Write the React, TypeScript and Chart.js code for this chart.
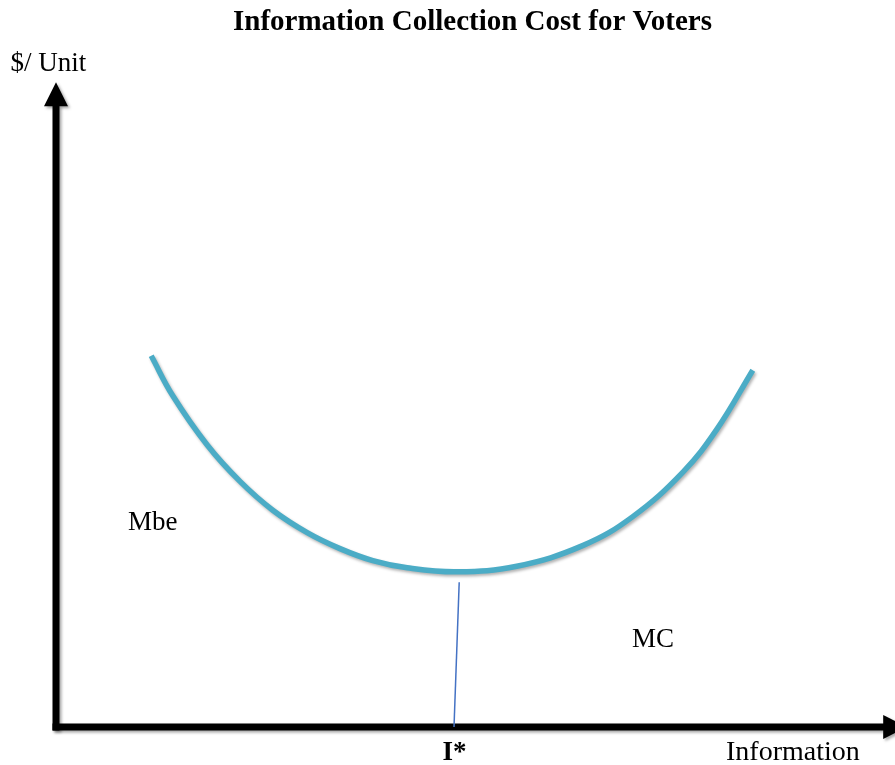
import React, { useEffect, useRef } from "react";
import { Chart, registerables } from "chart.js";

Chart.register(...registerables);

const titleText = "Information Collection Cost for Voters";
const yAxisLabel = "$/ Unit";
const xAxisLabel = "Information";
const curveLabelLeft = "Mbe";
const curveLabelRight = "MC";
const optimumLabel = "I*";

// U-shaped curve (data units; origin at the axes' corner)
const curveX = [1.19, 1.46, 1.89, 2.3, 2.71, 3.14, 3.55, 3.96, 4.39, 5.01, 5.76, 6.59, 7.21, 7.84, 8.26, 8.71];
const curveY = [4.64, 4.14, 3.525, 3.07, 2.71, 2.43, 2.23, 2.08, 1.99, 1.94, 2.01, 2.27, 2.63, 3.19, 3.72, 4.46];

// drop line from the minimum to the horizontal axis
const dropX = [5.04, 4.975];
const dropY = [1.81, 0];

// axis extents
const xAxisEnd = 10.64;
const yAxisEnd = 8.06;

// label anchor points
const labelMbe = { x: 0.9, y: 2.46 };
const labelMC = { x: 7.2, y: 1.0 };
const labelI = { x: 4.98, y: -0.41 };
const labelInfo = { x: 8.375, y: -0.41 };
const labelUnit = { x: -0.57, y: 8.2 };

const SERIF = "'Liberation Serif', 'Times New Roman', serif";

export default function App() {
  const ref = useRef<HTMLCanvasElement | null>(null);

  useEffect(() => {
    if (!ref.current) return;

    const overlay = {
      id: "econOverlay",
      beforeDatasetsDraw(chart: any) {
        const { ctx, scales } = chart;
        const xs = scales.x;
        const ys = scales.y;
        const x0 = xs.getPixelForValue(0);
        const y0 = ys.getPixelForValue(0);
        const xEnd = xs.getPixelForValue(xAxisEnd);
        const yEnd = ys.getPixelForValue(yAxisEnd);
        const lw = 7;
        const head = 24;
        const half = 12;
        ctx.save();
        ctx.shadowColor = "rgba(0,0,0,0.35)";
        ctx.shadowBlur = 3;
        ctx.shadowOffsetX = 2;
        ctx.shadowOffsetY = 2;
        ctx.fillStyle = "#000";
        // vertical axis shaft
        ctx.fillRect(x0 - lw / 2, yEnd + head - 1, lw, y0 + lw / 2 - (yEnd + head - 1));
        // horizontal axis shaft
        ctx.fillRect(x0 - lw / 2, y0 - lw / 2, xEnd - head + 1 - (x0 - lw / 2), lw);
        // arrow heads
        ctx.beginPath();
        ctx.moveTo(x0, yEnd);
        ctx.lineTo(x0 - half, yEnd + head);
        ctx.lineTo(x0 + half, yEnd + head);
        ctx.closePath();
        ctx.fill();
        ctx.beginPath();
        ctx.moveTo(xEnd, y0);
        ctx.lineTo(xEnd - head, y0 - half);
        ctx.lineTo(xEnd - head, y0 + half);
        ctx.closePath();
        ctx.fill();
        ctx.restore();
      },
      beforeDatasetDraw(chart: any, args: any) {
        if (args.index === 0) {
          const ctx = chart.ctx;
          ctx.save();
          ctx.shadowColor = "rgba(0,0,0,0.3)";
          ctx.shadowBlur = 3;
          ctx.shadowOffsetX = 1.5;
          ctx.shadowOffsetY = 2;
        }
      },
      afterDatasetDraw(chart: any, args: any) {
        if (args.index === 0) chart.ctx.restore();
      },
      afterDraw(chart: any) {
        const { ctx, scales, width } = chart;
        const xs = scales.x;
        const ys = scales.y;
        const px = (p: { x: number; y: number }) => [xs.getPixelForValue(p.x), ys.getPixelForValue(p.y)];
        ctx.save();
        ctx.fillStyle = "#000";
        ctx.textBaseline = "alphabetic";
        // title
        ctx.font = `bold 29px ${SERIF}`;
        ctx.textAlign = "center";
        ctx.fillText(titleText, width / 2 + 25, 30);
        ctx.font = `27px ${SERIF}`;
        ctx.textAlign = "left";
        let [a, b] = px(labelUnit);
        ctx.fillText(yAxisLabel, a, b);
        [a, b] = px(labelMbe);
        ctx.fillText(curveLabelLeft, a, b);
        [a, b] = px(labelMC);
        ctx.fillText(curveLabelRight, a, b);
        ctx.font = `28px ${SERIF}`;
        [a, b] = px(labelInfo);
        ctx.fillText(xAxisLabel, a, b);
        ctx.font = `bold 27px ${SERIF}`;
        ctx.textAlign = "center";
        [a, b] = px(labelI);
        ctx.fillText(optimumLabel, a, b);
        ctx.restore();
      },
    };

    const chart = new Chart(ref.current, {
      type: "line",
      data: {
        datasets: [
          {
            label: "curve",
            data: curveX.map((x, i) => ({ x, y: curveY[i] })),
            borderColor: "#4BACC6",
            borderWidth: 5.5,
            pointRadius: 0,
            tension: 0.4,
            borderCapStyle: "butt",
            borderJoinStyle: "round",
            fill: false,
          },
          {
            label: "drop",
            data: dropX.map((x, i) => ({ x, y: dropY[i] })),
            borderColor: "#4472C4",
            borderWidth: 1.5,
            pointRadius: 0,
            tension: 0,
            fill: false,
          },
        ],
      },
      options: {
        animation: false,
        responsive: false,
        maintainAspectRatio: false,
        layout: { padding: 0 },
        plugins: {
          legend: { display: false },
          tooltip: { enabled: false },
          title: { display: false },
        },
        scales: {
          x: { type: "linear", min: -0.7, max: 10.4875, display: false },
          y: { type: "linear", min: -0.475, max: 9.0875, display: false },
        },
      },
      plugins: [overlay],
    } as any);

    return () => chart.destroy();
  }, []);

  return (
    <div style={{ position: "absolute", left: 0, top: 0, width: 895, height: 765, background: "#fff" }}>
      <canvas ref={ref} width={895} height={765} style={{ display: "block" }} />
    </div>
  );
}
